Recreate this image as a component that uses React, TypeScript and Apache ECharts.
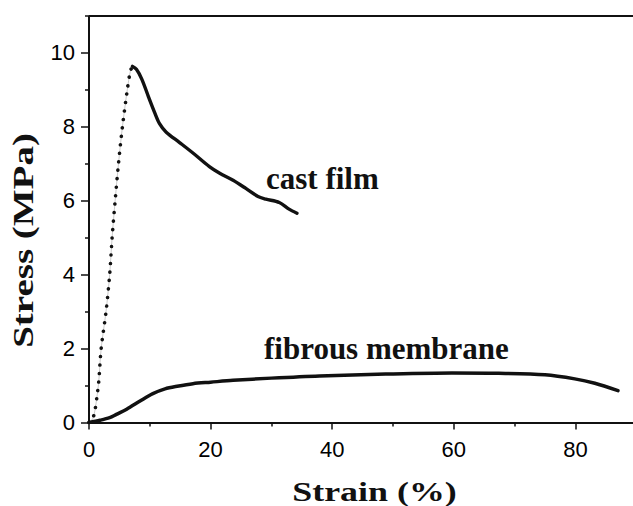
import React, { useEffect, useRef } from "react";
import * as echarts from "echarts";

// Tick labels
const xTickLabels = [0, 20, 40, 60, 80];
const yTickLabels = [0, 2, 4, 6, 8, 10];

// Cast film: rising (dotted) part, [strain %, stress MPa]
const castFilmRise: [number, number][] = [
  [0, 0], [0.6, 0.1], [1.0, 0.35], [1.35, 0.75], [1.6, 1.1], [2.0, 2.0],
  [2.8, 3.0], [3.4, 4.0], [3.8, 5.0], [4.3, 6.0], [4.85, 7.0], [5.5, 8.0],
  [6.3, 9.0], [6.8, 9.5], [7.15, 9.63],
];
// Cast film: post-yield (solid) part
const castFilmDrop: [number, number][] = [
  [7.15, 9.63], [7.8, 9.55], [8.7, 9.28], [9.8, 8.8], [10.8, 8.38],
  [11.6, 8.08], [12.7, 7.85], [14.9, 7.57], [17.3, 7.26], [19.8, 6.92],
  [21.5, 6.74], [23.7, 6.55], [25.8, 6.33], [27.8, 6.11], [29.1, 6.04],
  [31.3, 5.95], [32.9, 5.77], [34.2, 5.66],
];
// Fibrous membrane
const fibrousMembrane: [number, number][] = [
  [0, 0], [1.8, 0.06], [3.4, 0.13], [4.5, 0.22], [6.2, 0.36], [8.4, 0.58],
  [10.5, 0.78], [12.5, 0.91], [14.5, 0.98], [17.1, 1.05], [20, 1.09],
  [23.7, 1.14], [30, 1.2], [37.9, 1.26], [48.8, 1.31], [59.7, 1.34],
  [67.4, 1.33], [75, 1.29], [79.9, 1.18], [83.2, 1.06], [87.0, 0.86],
];
// Frame: top border at this stress value
const frameTop = 11;

const INK = "#111";
const SANS = '"Liberation Sans", Arial, sans-serif';
const SERIF = '"Liberation Serif", "Times New Roman", serif';

// The chart canvas is larger than the window (shifted up by OFF_Y) so that
// the axis extents beyond the visible frame fall outside the picture.
const OFF_Y = 22;
const CHART_W = 700;
const CHART_H = 506 + OFF_Y;

export default function App() {
  const ref = useRef<HTMLDivElement>(null);
  useEffect(() => {
    if (!ref.current) return;
    const chart = echarts.init(ref.current, null, { renderer: "svg" });
    const xMax = 100;
    const yMax = 12;
    const x0 = 89;
    const pxPerX = 6.0875;
    const y0 = 422.5 + OFF_Y;
    const pxPerY = 36.98;
    chart.setOption({
      animation: false,
      backgroundColor: "#fff",
      grid: {
        left: x0,
        right: CHART_W - (x0 + xMax * pxPerX),
        top: y0 - yMax * pxPerY,
        bottom: CHART_H - y0,
      },
      xAxis: {
        type: "value",
        min: 0,
        max: xMax,
        interval: 20,
        axisLine: { show: true, onZero: false, lineStyle: { color: INK, width: 2 } },
        axisTick: { show: true, length: 7, lineStyle: { color: INK, width: 1.5 } },
        minorTick: { show: true, splitNumber: 2, length: 4, lineStyle: { color: INK, width: 1.5 } },
        splitLine: { show: false },
        axisLabel: {
          margin: 16,
          color: "#000",
          fontSize: 22,
          fontFamily: SANS,
          formatter: (v: number) => (xTickLabels.includes(v) ? String(v) : ""),
        },
      },
      yAxis: {
        type: "value",
        min: 0,
        max: yMax,
        interval: 2,
        axisLine: { show: false },
        axisTick: { show: true, length: 8, lineStyle: { color: INK, width: 1.5 } },
        minorTick: { show: true, splitNumber: 2, length: 4, lineStyle: { color: INK, width: 1.5 } },
        splitLine: { show: false },
        axisLabel: {
          margin: 14,
          color: "#000",
          fontSize: 22,
          fontFamily: SANS,
          formatter: (v: number) => (yTickLabels.includes(v) ? String(v) : ""),
        },
      },
      series: [
        {
          type: "line",
          data: castFilmRise,
          smooth: 0.3,
          showSymbol: false,
          lineStyle: { color: "#b5b5b5", width: 0.7 },
          silent: true,
          z: 2,
        },
        {
          type: "line",
          data: castFilmRise,
          smooth: 0.3,
          showSymbol: false,
          lineStyle: { color: INK, width: 3.6, type: [0.01, 8.5], cap: "round" },
          silent: true,
          z: 3,
        },
        {
          type: "line",
          data: castFilmDrop,
          smooth: 0.3,
          showSymbol: false,
          lineStyle: { color: INK, width: 3.4, cap: "round", join: "round" },
          silent: true,
          z: 3,
        },
        {
          type: "line",
          data: fibrousMembrane,
          smooth: 0.3,
          showSymbol: false,
          lineStyle: { color: INK, width: 3.5, cap: "round", join: "round" },
          silent: true,
          z: 3,
          markLine: {
            silent: true,
            symbol: "none",
            label: { show: false },
            emphasis: { disabled: true },
            lineStyle: { color: INK, width: 2, type: "solid" },
            data: [
              [{ coord: [0, 0] }, { coord: [0, frameTop] }],
              [{ coord: [0, frameTop] }, { coord: [xMax, frameTop] }],
            ],
          },
        },
      ],
      graphic: [
        {
          type: "text",
          x: 374.5,
          y: 492 + OFF_Y,
          scaleX: 1.33,
          style: {
            text: "Strain (%)",
            fontSize: 27,
            fontWeight: "bold",
            fontFamily: SERIF,
            fill: INK,
            align: "center",
            verticalAlign: "middle",
          },
        },
        {
          type: "text",
          x: 23,
          y: 240.5 + OFF_Y,
          rotation: Math.PI / 2,
          scaleX: 1.3,
          style: {
            text: "Stress (MPa)",
            fontSize: 30,
            fontWeight: "bold",
            fontFamily: SERIF,
            fill: INK,
            align: "center",
            verticalAlign: "middle",
          },
        },
        {
          type: "text",
          x: 266,
          y: 178 + OFF_Y,
          style: {
            text: "cast film",
            fontSize: 31,
            fontWeight: "bold",
            fontFamily: SERIF,
            fill: INK,
            align: "left",
            verticalAlign: "middle",
          },
        },
        {
          type: "text",
          x: 264,
          y: 348.5 + OFF_Y,
          style: {
            text: "fibrous membrane",
            fontSize: 31,
            fontWeight: "bold",
            fontFamily: SERIF,
            fill: INK,
            align: "left",
            verticalAlign: "middle",
          },
        },
      ],
    });
    return () => chart.dispose();
  }, []);
  return (
    <div
      ref={ref}
      style={{
        position: "fixed",
        left: 0,
        top: -OFF_Y,
        width: CHART_W,
        height: CHART_H,
        background: "#fff",
      }}
    />
  );
}
